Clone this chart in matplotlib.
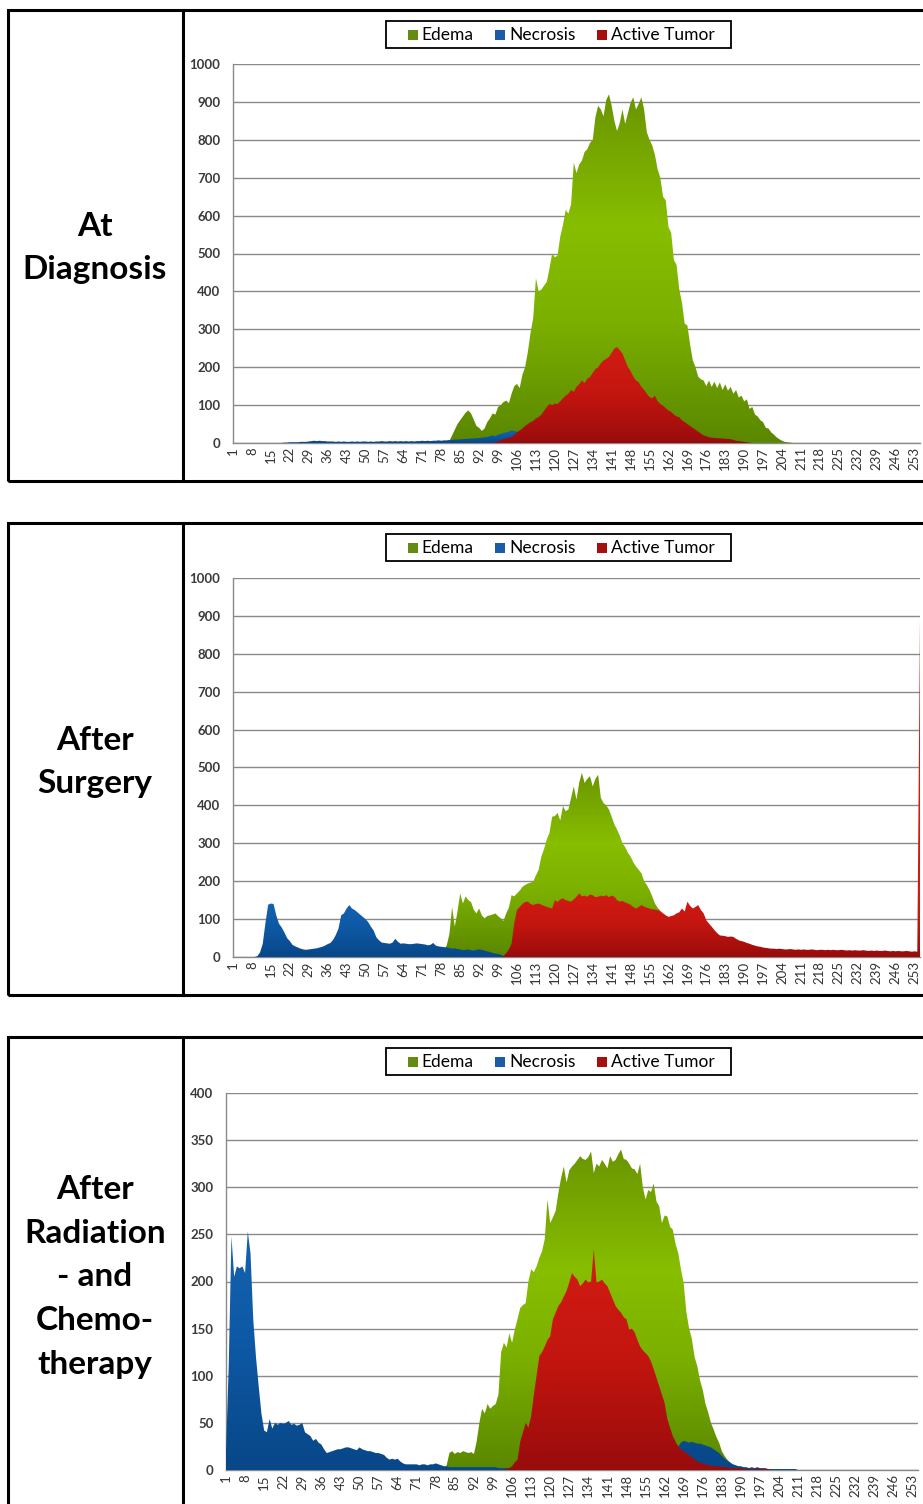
import numpy as np
import matplotlib
matplotlib.use("Agg")
import matplotlib.pyplot as plt
from matplotlib.colors import LinearSegmentedColormap
from matplotlib.patches import Rectangle
from matplotlib.lines import Line2D

plt.rcParams['font.family'] = ['Lato', 'DejaVu Sans']

# ---------------------------------------------------------------------------
# Data: voxel counts per grey level (1..255) for each tissue class.
# Each series is stored as its first grey level plus the explicit counts
# from there on; grey levels outside that run have a count of zero.
# ---------------------------------------------------------------------------
N_LEVELS = 255
series_names = ["Edema", "Necrosis", "Active Tumor"]
stage_titles = ["At\nDiagnosis", "After\nSurgery", "After\nRadiation\n- and\nChemo-\ntherapy"]

# --- At diagnosis ---
dx_edema_start = 81
dx_edema = [5, 20, 35, 50, 60, 70, 80, 86, 78, 62, 45, 40, 32, 38, 55, 65, 78, 75, 95, 100,
            108, 112, 105, 130, 150, 156, 145, 180, 200, 240, 290, 330, 435, 400, 405, 415, 425, 460, 500, 490,
            495, 545, 575, 615, 605, 630, 740, 712, 735, 745, 768, 775, 792, 800, 860, 890, 880, 862, 905, 920,
            890, 850, 823, 845, 880, 842, 870, 898, 912, 880, 895, 912, 880, 820, 800, 785, 760, 722, 700, 650,
            640, 570, 555, 483, 470, 405, 370, 315, 310, 260, 218, 200, 175, 168, 165, 150, 165, 148, 162, 145,
            160, 140, 155, 138, 148, 130, 140, 120, 125, 110, 115, 90, 95, 75, 70, 60, 55, 40, 38, 28,
            22, 15, 10, 6, 3, 2, 1, 0]
dx_necrosis_start = 20
dx_necrosis = [1, 1, 2, 2, 2, 2, 3, 3, 3, 4, 5, 6, 5, 6, 5, 5, 4, 4, 4, 3,
               4, 3, 4, 3, 3, 4, 3, 4, 3, 4, 4, 3, 4, 3, 4, 4, 5, 4, 4, 5,
               4, 5, 4, 5, 4, 5, 4, 5, 4, 5, 5, 6, 5, 6, 5, 6, 6, 7, 6, 7,
               7, 8, 8, 9, 9, 10, 10, 11, 11, 12, 12, 13, 13, 14, 15, 16, 18, 20, 18, 22,
               24, 26, 28, 30, 33, 32, 30, 25, 18, 10, 4]
dx_tumor_start = 98
dx_tumor = [2, 5, 8, 10, 12, 14, 16, 22, 28, 33, 38, 45, 50, 55, 58, 65, 68, 75, 85, 95,
            103, 100, 104, 103, 110, 118, 125, 130, 140, 135, 148, 155, 165, 158, 170, 174, 185, 195, 200, 210,
            218, 222, 227, 238, 249, 253, 245, 236, 218, 200, 190, 175, 165, 160, 148, 140, 130, 121, 118, 125,
            110, 103, 98, 92, 86, 82, 75, 70, 68, 60, 55, 50, 45, 40, 35, 30, 25, 20, 18, 15,
            14, 13, 13, 12, 12, 11, 11, 10, 8, 6, 5, 4, 3, 2, 1]

# --- After surgery ---
sx_edema_start = 77
sx_edema = [2, 10, 20, 30, 60, 132, 80, 120, 168, 141, 160, 150, 145, 125, 115, 128, 110, 102, 108, 110,
            112, 115, 108, 102, 95, 115, 130, 163, 160, 168, 175, 185, 190, 194, 196, 199, 215, 230, 265, 285,
            310, 327, 370, 372, 380, 360, 398, 385, 389, 420, 450, 415, 460, 486, 459, 470, 477, 450, 470, 481,
            420, 406, 400, 389, 370, 350, 336, 320, 300, 290, 275, 265, 250, 239, 230, 221, 200, 190, 177, 160,
            141, 130, 122, 115, 108, 102, 98, 95, 80, 50, 20, 0]
sx_necrosis_start = 10
sx_necrosis = [2, 12, 35, 90, 138, 141, 140, 110, 88, 78, 65, 50, 42, 32, 28, 25, 22, 20, 19, 20,
               21, 22, 23, 25, 27, 30, 34, 37, 45, 58, 75, 110, 115, 128, 137, 128, 124, 118, 112, 106,
               100, 92, 80, 70, 52, 44, 38, 37, 36, 35, 38, 48, 40, 35, 36, 35, 34, 34, 35, 36,
               35, 34, 33, 31, 32, 37, 30, 28, 27, 26, 25, 24, 22, 23, 21, 20, 18, 19, 20, 18,
               17, 19, 20, 19, 17, 15, 13, 11, 9, 8, 6, 3, 1]
sx_tumor_start = 101
sx_tumor = [2, 10, 20, 35, 90, 124, 132, 140, 145, 146, 140, 137, 140, 141, 138, 135, 132, 130, 128, 150,
            145, 152, 155, 150, 148, 146, 152, 159, 168, 160, 162, 159, 165, 163, 158, 159, 162, 160, 163, 158,
            162, 159, 150, 146, 148, 144, 141, 138, 132, 128, 132, 137, 133, 130, 128, 126, 125, 124, 120, 115,
            110, 106, 108, 110, 115, 118, 128, 120, 146, 135, 128, 132, 137, 124, 115, 97, 88, 80, 71, 63,
            57, 56, 55, 53, 54, 53, 48, 44, 42, 40, 37, 35, 32, 30, 28, 27, 25, 24, 23, 22,
            22, 21, 22, 21, 20, 20, 21, 20, 19, 20, 19, 20, 19, 19, 20, 19, 18, 19, 19, 18,
            19, 18, 19, 18, 18, 19, 18, 17, 18, 17, 18, 17, 17, 18, 17, 16, 17, 16, 17, 16,
            16, 17, 16, 15, 16, 15, 16, 15, 15, 16, 15, 14, 15, 14, 890]

# --- After radiation- and chemotherapy ---
rx_edema_start = 82
rx_edema = [5, 18, 20, 17, 19, 18, 20, 19, 18, 19, 17, 30, 50, 65, 60, 70, 65, 68, 70, 80,
            125, 135, 130, 145, 135, 149, 160, 172, 175, 177, 200, 213, 210, 216, 225, 232, 245, 287, 262, 268,
            275, 294, 310, 322, 305, 318, 322, 325, 329, 333, 330, 329, 332, 338, 315, 325, 322, 329, 325, 320,
            333, 327, 329, 335, 340, 330, 329, 325, 320, 319, 314, 325, 300, 287, 297, 295, 304, 285, 280, 262,
            270, 269, 258, 255, 240, 230, 213, 198, 167, 150, 139, 120, 110, 95, 85, 70, 61, 50, 43, 35,
            29, 20, 15, 11, 8, 6, 5, 4, 3, 2, 1]
rx_necrosis_start = 1
rx_necrosis = [20, 110, 248, 205, 216, 214, 216, 209, 253, 230, 160, 120, 89, 60, 42, 40, 54, 44, 50, 48,
               50, 49, 50, 52, 48, 49, 47, 48, 50, 40, 38, 36, 31, 33, 29, 27, 22, 18, 19, 20,
               21, 22, 22, 23, 24, 24, 23, 22, 21, 24, 22, 21, 20, 20, 19, 18, 18, 17, 16, 13,
               11, 12, 11, 12, 9, 7, 6, 6, 6, 6, 6, 5, 6, 6, 5, 6, 6, 7, 6, 5,
               4, 4, 3, 3, 3, 3, 3, 3, 3, 3, 3, 3, 3, 3, 3, 3, 3, 3, 3, 3,
               2, 2, 2, 2, 2, 2, 2, 2, 2, 2, 2, 2, 2, 2, 2, 2, 2, 2, 2, 2,
               2, 2, 2, 2, 2, 2, 2, 2, 2, 2, 2, 2, 2, 2, 2, 2, 2, 2, 2, 2,
               2, 2, 2, 2, 2, 2, 2, 2, 2, 2, 2, 2, 2, 2, 2, 2, 2, 2, 2, 2,
               2, 2, 2, 2, 10, 18, 25, 29, 31, 30, 29, 30, 29, 28, 28, 27, 26, 25, 24, 22,
               20, 18, 15, 12, 10, 8, 6, 5, 4, 4, 3, 3, 2, 3, 2, 3, 2, 2, 2, 1,
               1, 1, 1, 1, 1, 1, 1, 1, 1, 1]
rx_tumor_start = 104
rx_tumor = [1, 2, 4, 8, 11, 30, 40, 50, 45, 57, 80, 100, 121, 125, 131, 138, 142, 160, 167, 174,
            178, 184, 190, 199, 209, 205, 202, 195, 198, 202, 199, 200, 234, 199, 200, 202, 198, 195, 188, 181,
            174, 170, 167, 162, 160, 149, 150, 146, 138, 131, 127, 124, 121, 115, 107, 98, 89, 80, 71, 54,
            45, 36, 30, 25, 22, 20, 18, 16, 14, 11, 9, 8, 7, 6, 5, 5, 4, 4, 4, 3,
            3, 3, 2, 2, 2, 2, 2, 1, 1, 1, 1, 1, 1, 1, 1, 1, 1]

stages = [
    [(dx_edema_start, dx_edema), (dx_necrosis_start, dx_necrosis), (dx_tumor_start, dx_tumor)],
    [(sx_edema_start, sx_edema), (sx_necrosis_start, sx_necrosis), (sx_tumor_start, sx_tumor)],
    [(rx_edema_start, rx_edema), (rx_necrosis_start, rx_necrosis), (rx_tumor_start, rx_tumor)],
]
y_max = [1000, 1000, 400]
y_step = [100, 100, 50]
x_ticks = list(range(1, 254, 7))


def expand(start, values):
    """Place a run of counts into a full 1..255 grey-level histogram."""
    full = np.zeros(N_LEVELS)
    full[start - 1:start - 1 + len(values)] = values
    return full


# ---------------------------------------------------------------------------
# Styling
# ---------------------------------------------------------------------------
W, H = 923, 1504
fig = plt.figure(figsize=(W / 100, H / 100), dpi=100)
fig.patch.set_facecolor("white")

grad_stops = {
    "Edema": [(0.0, "#5a8700"), (0.35, "#7bb000"), (0.62, "#87be00"), (1.0, "#6a9500")],
    "Necrosis": [(0.0, "#084788"), (0.55, "#0e59a5"), (1.0, "#1562b0")],
    "Active Tumor": [(0.0, "#990c0c"), (0.5, "#c3150f"), (1.0, "#d21c13")],
}
swatch = {"Edema": "#648c12", "Necrosis": "#1a5ca5", "Active Tumor": "#a5100f"}
grid_col = "#8a8a8a"


def fig_rect(l, t, r, b):
    return [l / W, 1 - b / H, (r - l) / W, (b - t) / H]


def gradient_area(ax, x, y, name, z, span=None):
    coll = ax.fill_between(x, 0, y, facecolor="none", edgecolor="none", zorder=z)
    top = float(np.max(y))
    span = top if span is None else span
    rows = np.linspace(0, top, 500)
    t = np.clip(rows / span, 0, 1).reshape(-1, 1)
    cmap = LinearSegmentedColormap.from_list(name, grad_stops[name])
    img = ax.imshow(t, cmap=cmap, vmin=0, vmax=1, origin="lower", aspect="auto",
                    extent=[x[0], x[-1], 0, top], interpolation="bilinear", zorder=z)
    img.set_clip_path(coll.get_paths()[0], transform=ax.transData)


# panel frames (pixel geometry): box top/bottom, plot area, title centre
frames = [
    dict(top=10, bot=481, plot=(233, 64, 920, 443), title_y=248),
    dict(top=523, bot=995, plot=(233, 578, 920, 957), title_y=762),
    dict(top=1037, bot=1520, plot=(226, 1093, 918, 1470), title_y=1277),
]
gradient_span = [
    [None, None, None],
    [None, None, 170],
    [None, None, None],
]

x = np.arange(1, N_LEVELS + 1)

for k, fr in enumerate(frames):
    # outer box with the stage column on the left
    fig.patches.append(Rectangle((8 / W, 1 - fr["bot"] / H), (940 - 8) / W, (fr["bot"] - fr["top"]) / H,
                                 transform=fig.transFigure, facecolor="none", edgecolor="black",
                                 linewidth=2.2, zorder=5))
    fig.lines.append(Line2D([183 / W, 183 / W], [1 - fr["top"] / H, 1 - fr["bot"] / H],
                            transform=fig.transFigure, color="black", linewidth=2.2, zorder=5))
    fig.text(95 / W, 1 - fr["title_y"] / H, stage_titles[k], ha="center", va="center",
             fontsize=24, fontweight="bold", linespacing=1.62, color="black")

    ax = fig.add_axes(fig_rect(*fr["plot"]))
    for j, (name, (start, vals)) in enumerate(zip(series_names, stages[k])):
        gradient_area(ax, x, expand(start, vals), name, z=2 + j, span=gradient_span[k][j])

    ax.set_xlim(1, N_LEVELS)
    ax.set_ylim(0, y_max[k])
    ax.set_yticks(np.arange(0, y_max[k] + 1, y_step[k]))
    ax.set_xticks(x_ticks)
    ax.set_xticklabels([str(v) for v in x_ticks], rotation=90, fontsize=9.5, color="#333333")
    for lab in ax.get_yticklabels():
        lab.set_fontweight("bold")
        lab.set_fontsize(9.5)
        lab.set_color("#3a3a3a")
    ax.tick_params(axis="y", length=0, pad=9)
    ax.tick_params(axis="x", length=0, pad=3)
    ax.yaxis.grid(True, color=grid_col, linewidth=1.0)
    ax.set_axisbelow(True)
    for side in ("top", "right"):
        ax.spines[side].set_visible(False)
    for side in ("left", "bottom"):
        ax.spines[side].set_color(grid_col)
        ax.spines[side].set_linewidth(1.0)
    ax.set_facecolor("white")

    # legend box
    lt = fr["top"] + 11
    lb = fr["top"] + 38
    fig.patches.append(Rectangle((386 / W, 1 - lb / H), (731 - 386) / W, (lb - lt) / H,
                                 transform=fig.transFigure, facecolor="white", edgecolor="black",
                                 linewidth=1.3, zorder=6))
    ly = (lt + lb) / 2 + 0.5
    for name, sx, tx in zip(series_names, (408, 495, 597), (421, 509, 611)):
        fig.patches.append(Rectangle((sx / W, 1 - (ly + 5) / H), 10 / W, 10 / H,
                                     transform=fig.transFigure, facecolor=swatch[name],
                                     edgecolor="none", zorder=7))
        fig.text(tx / W, 1 - ly / H, name, ha="left", va="center", fontsize=12.5,
                 color="black", zorder=7)

fig.savefig("out.png", dpi=100, facecolor="white")
